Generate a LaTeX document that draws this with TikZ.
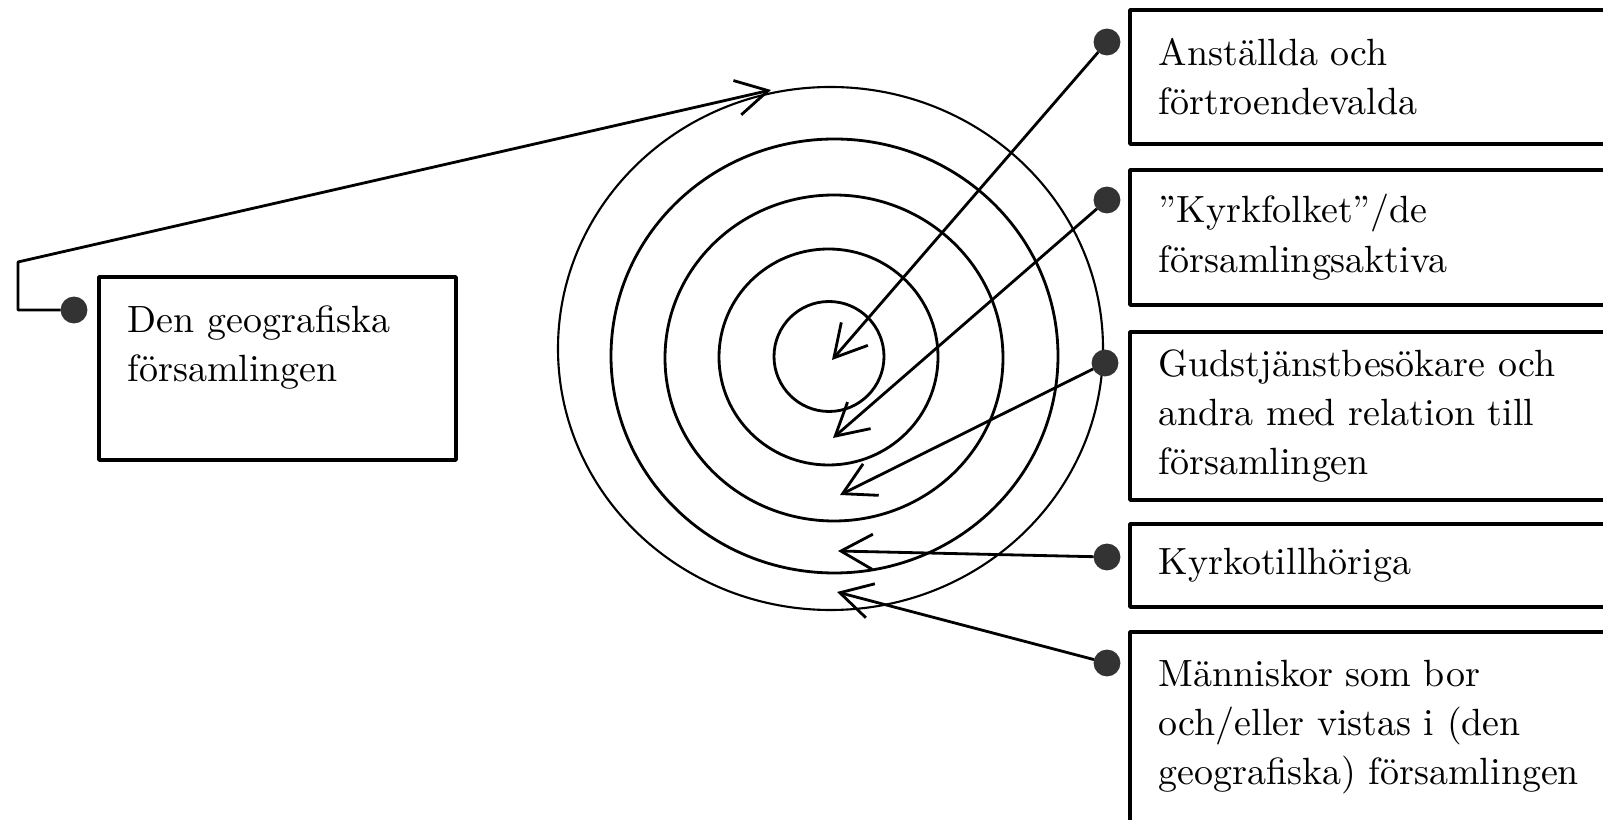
\documentclass[tikz,border=0pt]{standalone}
\usepackage{fontspec}
\usepackage{tikz}
\usetikzlibrary{arrows.meta,positioning}

\tikzset{
  box/.style={draw,line width=1pt,anchor=north west,align=left,inner xsep=2.9mm,inner ysep=0pt,
    font=\fontsize{10.8}{14}\selectfont},
  rbox/.style={box,text width=46.2mm},
  blob/.style={circle,fill=black!80,draw=black!80,inner sep=0pt,minimum size=2.4mm},
  ring/.style={line width=.8pt},
}

\begin{document}
\begin{tikzpicture}[x=0.1mm,y=-0.1mm,>={Straight Barb[length=9pt,width=10pt]},line join=bevel,]
  \useasboundingbox (0,0) rectangle (1603,820);
  \clip (0,0) rectangle (1603,820);
  \pgfsetlinewidth{0.8pt}
%%
  % Rings
  \draw [ring] (829,356.5) ellipse [x radius=55, y radius=55];
  \draw [ring] (828.5,357) ellipse [x radius=109.5, y radius=108];
  \draw [ring] (834,358) ellipse [x radius=169, y radius=163];
  \draw [ring] (834.5,356) ellipse [x radius=223.5, y radius=217];
  \draw [ring,line width=.6pt] (830.5,348.5) ellipse [x radius=272.5, y radius=261.5];
  % Tips
  \coordinate (t0) at (771,90);
  \coordinate (t1) at (832,360);
  \coordinate (t2) at (833,438);
  \coordinate (t3) at (840,495);
  \coordinate (t4) at (838,551);
  \coordinate (t5) at (837,592);
  \coordinate (k0) at (18,262);
  % Node: bg
  \node [box,text width=29.9mm,minimum height=18.3mm] (bg) at (97,275)
    {Den geografiska\\församlingen\\\mbox{}};
  % Node: b1
  \node [rbox,minimum height=13.4mm] (b1) at (1128,8) {Anställda och\\förtroendevalda};
  % Node: b2
  \node [rbox,minimum height=13.5mm] (b2) at (1128,168) {”Kyrkfolket”/de\\församlingsaktiva};
  % Node: b3
  \node [rbox,minimum height=16.8mm] (b3) at (1128,330)
    {Gudstjänstbesökare och\\andra med relation till\\församlingen};
  % Node: b4
  \node [rbox,minimum height=8.3mm] (b4) at (1128,522) {Kyrkotillhöriga};
  % Node: b5
  \node [rbox,minimum height=23mm] (b5) at (1128,630)
    {Människor som bor\\och/eller vistas i (den\\geografiska) församlingen\\\mbox{}};
  % Dots
  \node [blob] (d0) at (74,310) {};
  \node [blob] (d1) at (1107,42) {};
  \node [blob] (d2) at (1107,200) {};
  \node [blob] (d3) at (1105,363) {};
  \node [blob] (d4) at (1107,557) {};
  \node [blob] (d5) at (1107,663) {};
  % Edge: d0 -> t0
  \draw [->] (d0) -| (k0) -- (t0);
  % Edge: d1 -> t1
  \draw [->] (d1) -- (t1);
  % Edge: d2 -> t2
  \draw [->] (d2) -- (t2);
  % Edge: d3 -> t3
  \draw [->] (d3) -- (t3);
  % Edge: d4 -> t4
  \draw [->] (d4) -- (t4);
  % Edge: d5 -> t5
  \draw [->] (d5) -- (t5);
%
\end{tikzpicture}
\end{document}
